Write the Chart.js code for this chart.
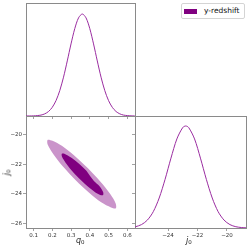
<!DOCTYPE html>
<html>
<head>
<meta charset="utf-8">
<script src="https://cdn.jsdelivr.net/npm/chart.js@4"></script>
<style>
  html, body { margin: 0; padding: 0; background: #fff; }
  #wrap { position: relative; width: 249px; height: 249px; overflow: hidden; font-family: "DejaVu Sans", sans-serif; }
  canvas { position: absolute; left: 0; top: 0; }
  .ttl { position: absolute; font-size: 8px; color: #222; white-space: nowrap; line-height: 10px; }
  .ttl sub { font-size: 5.5px; font-style: normal; vertical-align: -1px; }
  #legend { position: absolute; left: 181px; top: 3px; width: 64px; height: 16px; box-sizing: border-box;
            border: 1px solid #d4d4d4; border-radius: 2px; background: #fff; }
  #legend .sw { position: absolute; left: 2px; top: 5px; width: 13px; height: 5px; background: #800080; }
  #legend .tx { position: absolute; left: 22px; top: 2px; font-size: 7.5px; line-height: 10px; color: #111; }
</style>
</head>
<body>
<div id="wrap">
  <canvas id="tl" width="249" height="249"></canvas>
  <canvas id="bl" width="249" height="249"></canvas>
  <canvas id="br" width="249" height="249"></canvas>
  <div class="ttl" style="left:76px; top:236px;"><i>q</i><sub>0</sub></div>
  <div class="ttl" style="left:186px; top:236px;"><i>j</i><sub>0</sub></div>
  <div class="ttl" style="left:5px; top:167px; transform: rotate(-90deg);"><i>j</i><sub>0</sub></div>
  <div id="legend"><span class="sw"></span><span class="tx">y-redshift</span></div>
</div>
<script>
// tick labels
const qTicks = [0.1, 0.2, 0.3, 0.4, 0.5, 0.6];
const jTicksY = [-26, -24, -22, -20];
const jTicksX = [-24, -22, -20];
const qRange = [0.06, 0.641];
const jRangeY = [-26.32, -18.73];
const jRangeX = [-26.24, -18.71];

// 1D marginal of q0 (peak normalised to 1)
const q0Grid = [0.06, 0.08, 0.10, 0.12, 0.14, 0.16, 0.18, 0.20, 0.22, 0.24, 0.26, 0.28, 0.30, 0.32, 0.34,
                0.36, 0.38, 0.40, 0.42, 0.44, 0.46, 0.48, 0.50, 0.52, 0.54, 0.56, 0.58, 0.60, 0.62, 0.64];
const q0Density = [0.0002, 0.0005, 0.0015, 0.004, 0.009, 0.021, 0.044, 0.085, 0.151, 0.249, 0.381, 0.540, 0.707, 0.857, 0.962,
                   1.0, 0.962, 0.857, 0.707, 0.540, 0.381, 0.249, 0.151, 0.085, 0.044, 0.021, 0.009, 0.004, 0.0015, 0.0005];

// 1D marginal of j0
const j0Grid = [-26.3, -26.2, -25.8, -25.4, -25.0, -24.6, -24.2, -23.8, -23.4, -23.0, -22.8,
                -22.6, -22.2, -21.8, -21.4, -21.0, -20.6, -20.2, -19.8, -19.4, -19.0, -18.7];
const j0Density = [0.0098, 0.0126, 0.0333, 0.0776, 0.160, 0.294, 0.477, 0.685, 0.873, 0.985, 1.0,
                   0.985, 0.873, 0.685, 0.477, 0.294, 0.160, 0.0776, 0.0333, 0.0126, 0.0043, 0.0017];

// 2D contours (95% outer, 68% inner), read around the boundary
const outerQ = [0.389, 0.317, 0.251, 0.201, 0.175, 0.176, 0.206, 0.257, 0.325, 0.398, 0.463, 0.513, 0.539, 0.538, 0.509, 0.457, 0.389];
const outerJ = [-22.26, -21.40, -20.75, -20.41, -20.35, -20.68, -21.32, -22.16, -23.08, -23.94, -24.60, -24.93, -24.99, -24.66, -24.02, -23.19, -22.26];
const innerQ = [0.382, 0.338, 0.298, 0.267, 0.251, 0.252, 0.270, 0.301, 0.342, 0.385, 0.425, 0.455, 0.471, 0.471, 0.453, 0.422, 0.382];
const innerJ = [-22.44, -21.92, -21.53, -21.30, -21.29, -21.50, -21.88, -22.39, -22.95, -23.46, -23.86, -24.08, -24.09, -23.88, -23.50, -23.13, -22.44];

const GRAY = '#8a8a8a';
const PURPLE = '#800080';
const LINE = '#9a2ca0';
const LIGHT = '#ca94ca';
const tickFont = { family: 'DejaVu Sans', size: 5.5 };

const fmt = v => String(v).replace('-', '\u2212');
const pts = (xs, ys) => xs.map((x, i) => ({ x, y: ys[i] }));

// size = pixels the axis box takes (fixes where the plot area sits on the canvas)
function axis(pos, range, tickVals, showLabels, size, border = true) {
  return {
    type: 'linear', position: pos, min: range[0], max: range[1],
    afterBuildTicks: s => { s.ticks = (tickVals || []).map(v => ({ value: v })); },
    afterFit: s => { if (s.isHorizontal()) s.height = size; else s.width = size; },
    grid: { display: !!tickVals, drawOnChartArea: false, drawTicks: true, tickLength: 3, tickWidth: 0.8, tickColor: GRAY },
    border: { display: border, color: GRAY, width: 1 },
    ticks: { display: showLabels, font: tickFont, color: '#333', padding: 1, maxRotation: 0, autoSkip: false, callback: v => fmt(v) }
  };
}

function panel(id, scales, datasets) {
  new Chart(document.getElementById(id), {
    type: 'scatter',
    data: { datasets },
    options: {
      responsive: false, animation: false, devicePixelRatio: 1,
      layout: { padding: 0 },
      plugins: { legend: { display: false }, tooltip: { enabled: false } },
      scales
    }
  });
}

const curve = (xs, ys) => ({
  data: pts(xs, ys), showLine: true, borderColor: LINE, borderWidth: 1,
  pointRadius: 0, tension: 0.3, fill: false
});

// top left: q0 marginal
panel('tl', {
  x: axis('bottom', qRange, qTicks, false, 133),
  y: axis('left', [0, 1.108], null, false, 26),
  xt: axis('top', [0, 1], null, false, 3),
  yr: axis('right', [0, 1], null, false, 114)
}, [curve(q0Grid, q0Density)]);

// bottom left: q0 vs j0 contours
panel('bl', {
  x: axis('bottom', qRange, qTicks, true, 21),
  y: axis('left', jRangeY, jTicksY, true, 26),
  xt: axis('top', [0, 1], null, false, 116),
  yr: axis('right', [0, 1], null, false, 114)
}, [
  { data: pts(outerQ, outerJ), showLine: true, borderWidth: 0, borderColor: LIGHT, backgroundColor: LIGHT,
    pointRadius: 0, tension: 0.3, fill: 'shape', order: 2 },
  { data: pts(innerQ, innerJ), showLine: true, borderWidth: 0, borderColor: PURPLE, backgroundColor: PURPLE,
    pointRadius: 0, tension: 0.3, fill: 'shape', order: 1 }
]);

// bottom right: j0 marginal
panel('br', {
  x: axis('bottom', jRangeX, jTicksX, true, 21),
  y: axis('left', [0, 1.098], null, false, 0, false),
  yj: axis('left', jRangeY, jTicksY, false, 135),
  xt: axis('top', [0, 1], null, false, 116),
  yr: axis('right', [0, 1], null, false, 3)
}, [curve(j0Grid, j0Density)]);
</script>
</body>
</html>
